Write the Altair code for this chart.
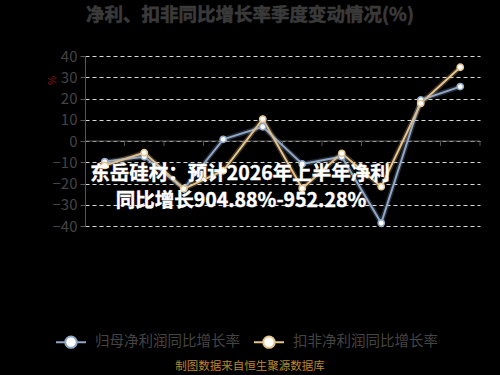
import altair as alt
import pandas as pd

quarters = ["2024Q1", "2024Q2", "2024Q3", "2024Q4", "2025Q1", "2025Q2", "2025Q3", "2025Q4", "2026Q1", "2026Q2E"]
parent_growth = [-9.7, -7.4, -22.5, 0.8, 6.7, -10.8, -7.4, -38.6, 19.3, 25.6]
deducted_growth = [-11.5, -5.5, -22.5, -14.0, 10.3, -22.3, -5.8, -21.5, 17.7, 34.7]
series_names = ["归母净利润同比增长率", "扣非净利润同比增长率"]
series_colors = ["#8fa6c6", "#e6c48e"]
y_ticks = [40, 30, 20, 10, 0, -10, -20, -30, -40]

rows = []
for q, a, b in zip(quarters, parent_growth, deducted_growth):
    rows.append({"quarter": q, "series": series_names[0], "value": a})
    rows.append({"quarter": q, "series": series_names[1], "value": b})
df = pd.DataFrame(rows)

FONT = "Noto Sans CJK SC"

x_scale = alt.Scale(domain=quarters, paddingInner=0, paddingOuter=0)
x_enc = alt.X("quarter:N", sort=quarters, scale=x_scale,
              axis=alt.Axis(title=None, domain=False, ticks=False, labelAngle=-55, labelAlign="right",
                            labelBaseline="middle", labelFontSize=14, labelColor="#3c3c3c",
                            labelFont=FONT, labelPadding=6, grid=False, labelOverlap=False))
y_axis = alt.Axis(values=y_ticks, title="%", titleColor="#8b1a1a", titleFontSize=10,
                  titleFontWeight="normal", titleAngle=90, titleX=-40, titleY=24,
                  labelFontSize=15, labelColor="#444444", labelFont=FONT, labelPadding=3,
                  labelOverlap=False,
                  domain=True, domainColor="#555555", ticks=True, tickColor="#555555", tickSize=5,
                  grid=True, gridColor="#d8d8d8", gridDash=[4, 3], gridWidth=1.2)
y_scale = alt.Scale(domain=[-40, 40], nice=False, zero=False)
y_enc = alt.Y("value:Q", scale=y_scale, axis=y_axis)

legend = alt.Legend(title=None, orient="none", direction="horizontal",
                    legendX=-30, legendY=270,
                    symbolType="M -1 0 L -0.38 0 M 0.38 0 L 1 0 M 0.38 0 A 0.38 0.38 0 1 1 -0.38 0 A 0.38 0.38 0 1 1 0.38 0",
                    symbolSize=900, symbolStrokeWidth=2, symbolFillColor="#ffffff", symbolOpacity=1,
                    labelFontSize=14.5, labelColor="#444444", labelFont=FONT,
                    labelOffset=8, columnPadding=10)
color_enc = alt.Color("series:N", sort=series_names,
                      scale=alt.Scale(domain=series_names, range=series_colors), legend=legend)

base = alt.Chart(df)

lines = base.mark_line(strokeWidth=2).encode(x=x_enc, y=y_enc, color=color_enc)
glow = base.mark_line(strokeWidth=5, strokeOpacity=0.25).encode(x=x_enc, y=y_enc, color=color_enc)
points = base.mark_point(filled=False, size=40, fill="#ffffff", fillOpacity=1, opacity=1, strokeWidth=1.5).encode(
    x=x_enc, y=y_enc, color=color_enc)

zero_df = pd.DataFrame({"value": [0]})
zero_rule = alt.Chart(zero_df).mark_rule(color="#555555", strokeWidth=1.2).encode(y=y_enc)

tick_df = pd.DataFrame({"quarter": quarters})
zero_ticks = alt.Chart(tick_df).mark_rule(color="#555555", strokeWidth=1).encode(
    x=alt.X("quarter:N", sort=quarters, scale=x_scale, bandPosition=1, axis=None),
    y=alt.value(85), y2=alt.value(90))

one = pd.DataFrame({"k": [0]})
title = alt.Chart(one).mark_text(text="净利、扣非同比增长率季度变动情况(%)", font=FONT, fontSize=18.5,
                                 fontWeight="bold", color="#3a3a3a", align="center", baseline="middle",
                                 stroke="#3a3a3a", strokeWidth=0.6).encode(
    x=alt.value(165), y=alt.value(-41))
overlay1 = alt.Chart(one).mark_text(text="东岳硅材：预计2026年上半年净利", font=FONT, fontSize=19.5,
                                    fontWeight="bold", color="#ffffff", align="center", baseline="middle",
                                    stroke="#ffffff", strokeWidth=0.4).encode(
    x=alt.value(155), y=alt.value(118))
overlay2 = alt.Chart(one).mark_text(text="同比增长904.88%-952.28%", font=FONT, fontSize=19.5,
                                    fontWeight="bold", color="#ffffff", align="center", baseline="middle",
                                    stroke="#ffffff", strokeWidth=0.4).encode(
    x=alt.value(156), y=alt.value(145))
footer = alt.Chart(one).mark_text(text="制图数据来自恒生聚源数据库", font=FONT, fontSize=11.5,
                                  color="#b8862e", align="center", baseline="middle").encode(
    x=alt.value(165), y=alt.value(311))

chart = alt.layer(zero_rule, zero_ticks, lines, glow, points, title, overlay1, overlay2, footer).properties(
    width=395, height=170,
    autosize=alt.AutoSizeParams(type="none"),
    padding={"left": 85, "top": 56, "right": 20, "bottom": 149},
    background="#000000",
).configure_view(stroke=None).configure_axis(labelFont=FONT)

chart.save("out.html", embed_options={"renderer": "svg", "actions": False})
